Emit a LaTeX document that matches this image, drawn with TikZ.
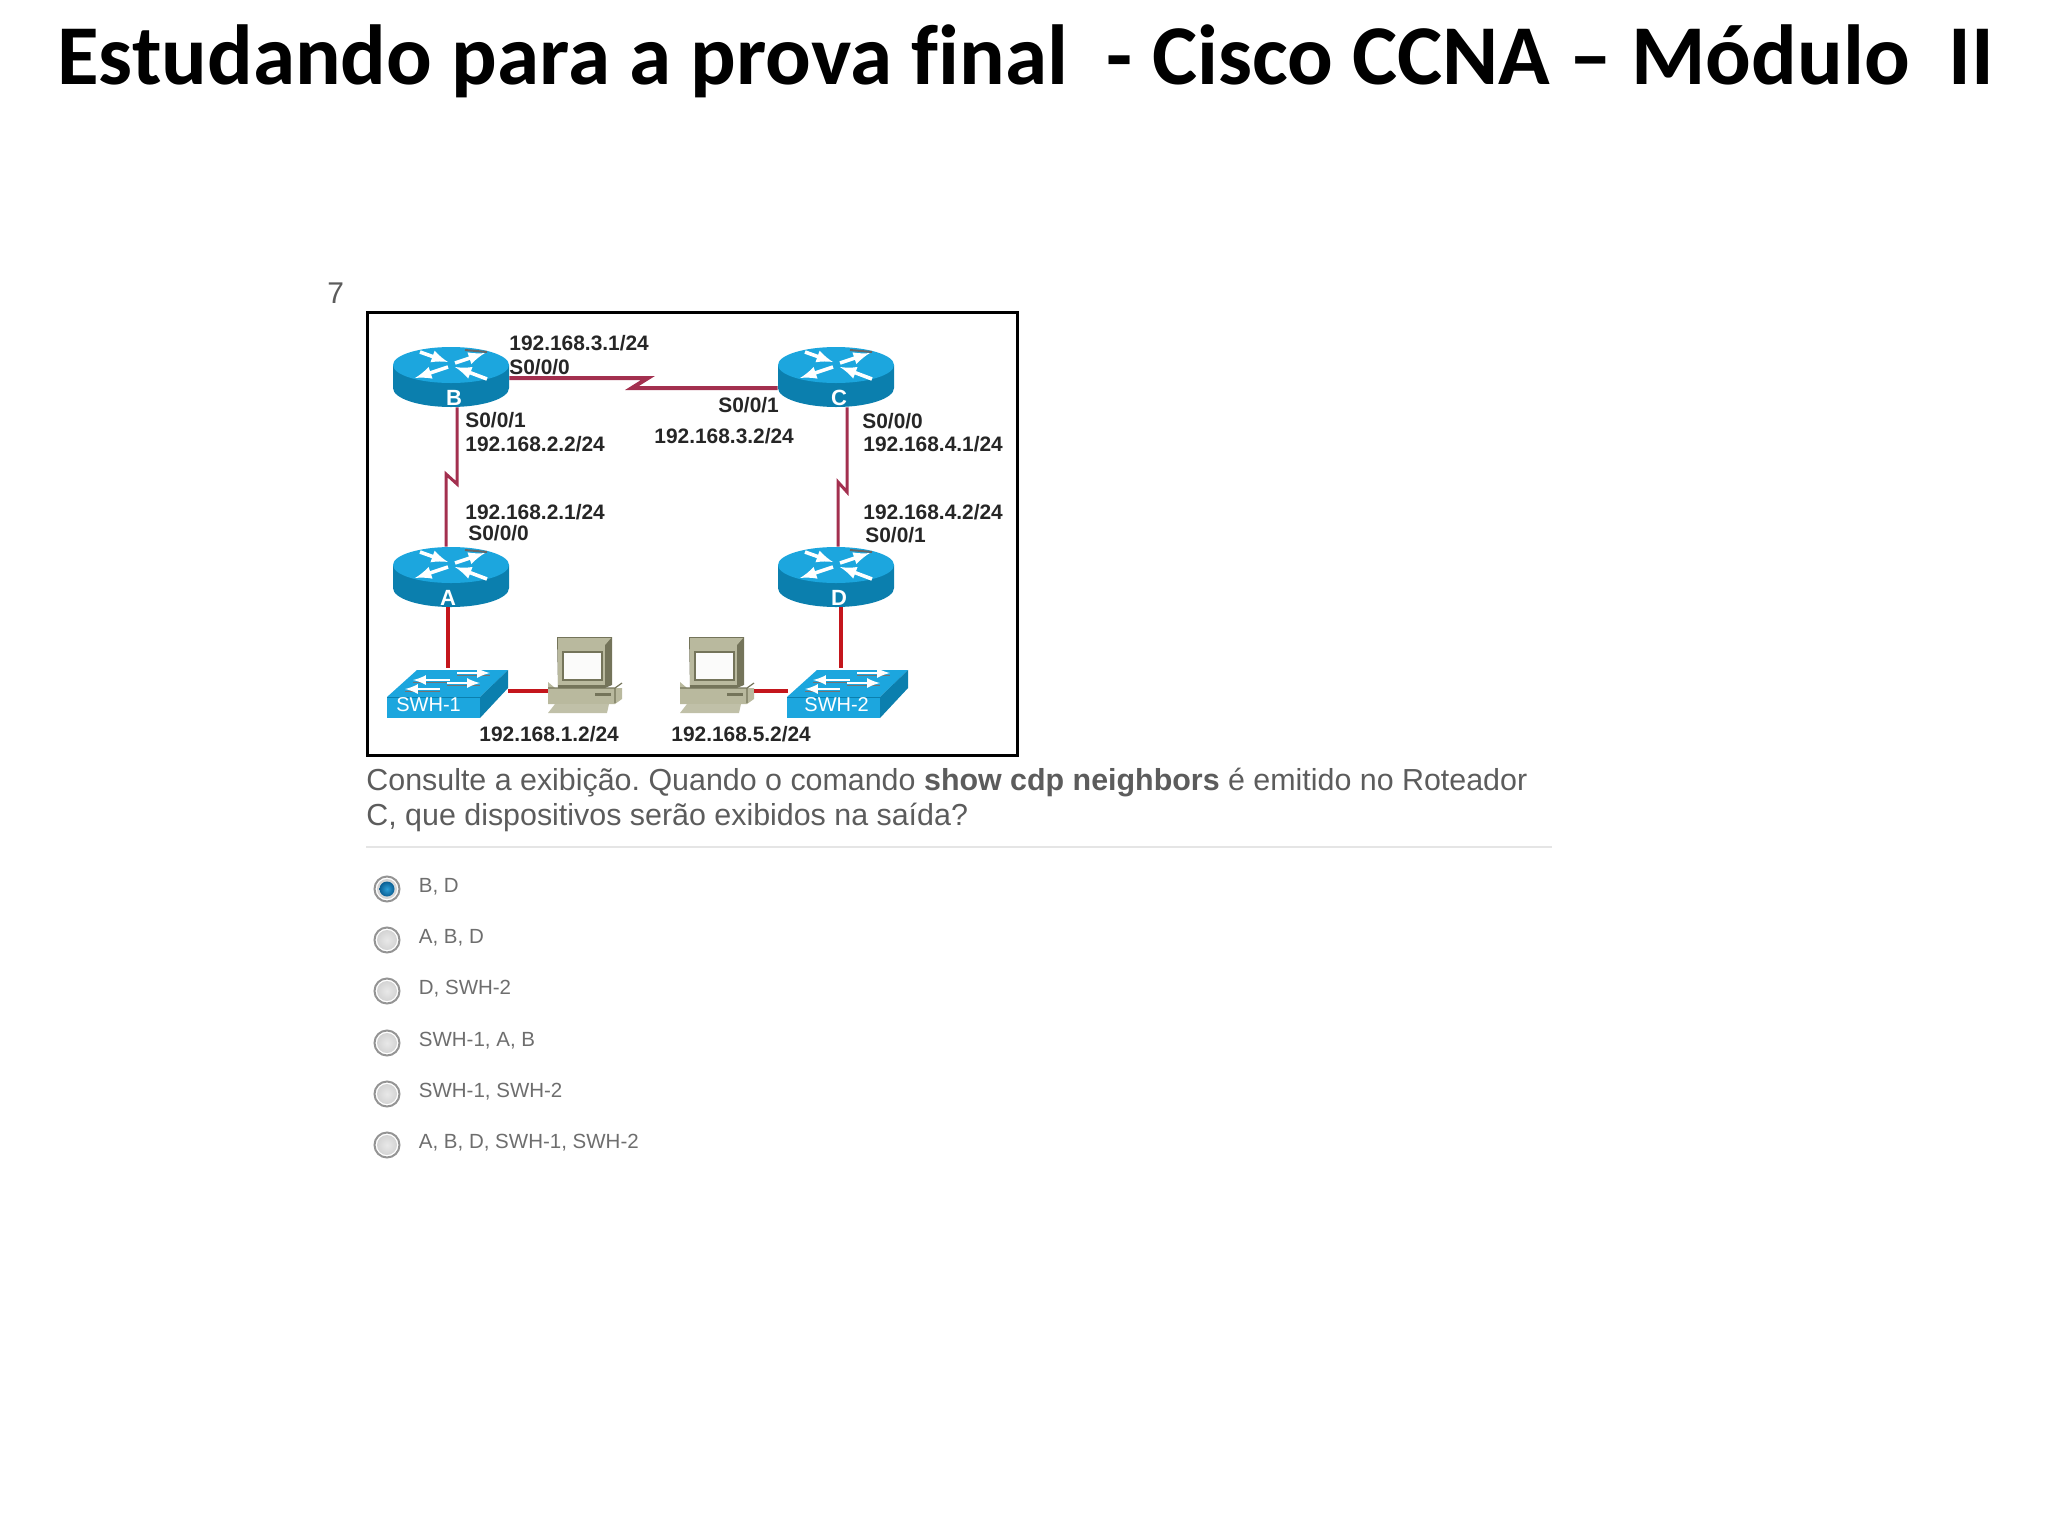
\documentclass[tikz,border=0pt]{standalone}
\usepackage{fontspec}
\setmainfont{Liberation Sans}
\newfontfamily\titlefont[Ligatures=NoCommon]{Carlito}
\usetikzlibrary{positioning}
\definecolor{routertop}{HTML}{1CA6DE}
\definecolor{routerside}{HTML}{0B7FAE}
\definecolor{wanline}{HTML}{A3304F}
\definecolor{lanline}{HTML}{C4161C}
\definecolor{pcbody}{HTML}{B9B99E}
\definecolor{pcdark}{HTML}{74745A}
\definecolor{bodytext}{HTML}{5C5C5C}
\definecolor{opttext}{HTML}{6E6E6E}
\definecolor{radioblue}{HTML}{0A5F94}
\definecolor{radiolight}{HTML}{2E9FD8}
\tikzset{
  iplabel/.style={anchor=west,inner sep=0pt,font=\bfseries\fontsize{10.45}{12}\selectfont,text=black!85},
  iconlabel/.style={inner sep=0pt,text=white,font=\bfseries\fontsize{11}{12}\selectfont},
  wanlink/.style={draw=wanline,line width=1.5pt,line join=miter},
  lanlink/.style={draw=lanline,line width=2.3pt},
  radiobox/.style={circle,draw=black!42,line width=1pt,fill=white,minimum size=12.5pt,inner sep=0pt},
  optlabel/.style={inner sep=0pt,text=opttext,font=\fontsize{10.25}{12}\selectfont},
  bodyline/.style={anchor=west,inner sep=0pt,text=bodytext,font=\fontsize{15.2}{17}\selectfont},
}
\newcommand{\drawrouter}[5]{
  \begin{scope}[shift={(#2,#3)}]
    \fill[routerside] (-58,-12) -- (-58,11) arc[start angle=180,end angle=0,x radius=58,y radius=19] -- (58,-12) -- cycle;
    \fill[routertop] (0,-12) ellipse[x radius=58,y radius=18];
    \foreach \ax/\ay/\bx/\by in {-31/-25/-3/-15, 4/-14/34/-24, -3/-10/-36/1, 36/2/4/-10}{
      \draw[white,line width=1.8pt,-latex] (\ax,\ay) -- (\bx,\by);
    }
    \draw[black!60,line width=1pt] (14,-27) -- (36,-25);
    \node[minimum width=58pt,minimum height=30pt,inner sep=0pt] (#1) at (0,0) {};
    \node[iconlabel] (#1label) at (#5,21) {#4};
  \end{scope}
}
\newcommand{\drawswitch}[5]{
  \begin{scope}[shift={(#2,#3)}]
    \fill[routertop] (-61,4) -- (-31,-23) -- (60,-23) -- (32,4) -- cycle;
    \fill[routerside] (32,4) -- (60,-23) -- (60,-5) -- (32,25) -- cycle;
    \fill[routertop] (-61,4) rectangle (32,25);
    \draw[routerside,line width=.5pt] (-61,4) -- (32,4);
    \foreach \ax/\ay/\bx/\by in {2/-13/-35/-13, 9/-20/42/-20, -8/-4/-43/-4, -1/-10/32/-10}{
      \draw[black!55,line width=.8pt] (\ax,\ay+2.5) -- (\bx,\by+2.5);
      \draw[white,line width=1.2pt,-latex] (\ax,\ay) -- (\bx,\by);
    }
    \node[minimum width=60pt,minimum height=25pt,inner sep=0pt] (#1) at (0,0) {};
    \node[iconlabel,anchor=west,font=\fontsize{10}{12}\selectfont] (#1label) at (#5,12) {#4};
  \end{scope}
}
\newcommand{\drawpc}[3]{
  \begin{scope}[shift={(#2,#3)}]
    \fill[pcbody] (-37,7) -- (-30,13) -- (37,13) -- (37,24) -- (30,29) -- (-37,29) -- cycle;
    \draw[pcdark,line width=.6pt] (-37,13) -- (30,13) -- (30,28) (30,13) -- (37,8);
    \fill[pcdark] (10,18) rectangle (26,21);
    \fill[pcbody!90!white] (-37,38) -- (-30,29) -- (24,29) -- (22,38) -- cycle;
    \fill[pcdark] (-28,-38) -- (27,-38) -- (27,10) -- (20,13) -- (-27,13) -- cycle;
    \fill[pcbody] (-27,-37) -- (26,-37) -- (20,-30) -- (-27,-30) -- cycle;
    \fill[pcbody] (-27,-30) rectangle (20,10);
    \draw[pcdark,line width=.8pt,fill=white!95!pcbody] (-22,-23) rectangle (17,5);
    \node[minimum width=37pt,minimum height=38pt,inner sep=0pt] (#1) at (0,0) {};
  \end{scope}
}
\begin{document}
\begin{tikzpicture}[x=0.5pt,y=-0.5pt]
  \useasboundingbox (0,0) rectangle (2048,1536);
  \node[anchor=base west,inner sep=0pt,font=\titlefont\bfseries\fontsize{42.6}{50}\selectfont] (title) at (57,85)
    {Estudando para a prova final\ \ - Cisco CCNA – Módulo\ \ II};
  \node[anchor=west,inner sep=0pt,text=bodytext,font=\fontsize{15}{17}\selectfont] (number) at (327,293) {7};
  \draw[black,line width=1.5pt] (367,312) rectangle (1017,755);

  % routers, switches and hosts
  \drawrouter{rtrB}{451}{377}{B}{3}
  \drawrouter{rtrC}{836}{377}{C}{3}
  \drawrouter{rtrA}{451}{577}{A}{-3}
  \drawrouter{rtrD}{836}{577}{D}{3}
  \drawswitch{swhA}{448}{693}{SWH-1}{-52}
  \drawswitch{swhD}{848}{693}{SWH-2}{-44}
  \drawpc{pcA}{585}{675}
  \drawpc{pcD}{717}{675}

  % serial links with their kink
  \coordinate (kinkBCa) at (648,378);
  \coordinate (kinkBCb) at (632,388);
  \coordinate (kinkBAa) at (457,484);
  \coordinate (kinkBAb) at (446,474);
  \coordinate (kinkCDa) at (847,492);
  \coordinate (kinkCDb) at (838,482);
  \draw[wanlink,line width=2pt] (rtrB.east |- kinkBCa) -- (kinkBCa) -- (kinkBCb) -- (rtrC.west |- kinkBCb);
  \draw[wanlink] (rtrB.south -| kinkBAa) -- (kinkBAa) -- (kinkBAb) -- (rtrA.north -| kinkBAb);
  \draw[wanlink] (rtrC.south -| kinkCDa) -- (kinkCDa) -- (kinkCDb) -- (rtrD.north -| kinkCDb);

  % ethernet links
  \draw[lanlink] (rtrA.south -| swhA.north) -- (swhA.north);
  \draw[lanlink] (rtrD.south -| swhD.north) ++(-7,0) -- ++(0,61);
  \draw[lanlink] ([yshift=1pt]swhA.east) -- ([yshift=1pt]swhA.east -| pcA.west);
  \draw[lanlink] ([yshift=1pt]swhD.west -| pcD.east) -- ([yshift=1pt]swhD.west);

  \node[iplabel] (ipBC) at (509,343) {192.168.3.1/24};
  \node[iplabel] (ifBC) at (509,367) {S0/0/0};
  \node[iplabel] (ifBA) at (465,420) {S0/0/1};
  \node[iplabel] (ipBA) at (465,444) {192.168.2.2/24};
  \node[iplabel] (ipAB) at (465,512) {192.168.2.1/24};
  \node[iplabel] (ifAB) at (468,533) {S0/0/0};
  \node[iplabel] (ifCB) at (718,405) {S0/0/1};
  \node[iplabel] (ipCB) at (654,436) {192.168.3.2/24};
  \node[iplabel] (ifCD) at (862,421) {S0/0/0};
  \node[iplabel] (ipCD) at (863,444) {192.168.4.1/24};
  \node[iplabel] (ipDC) at (863,512) {192.168.4.2/24};
  \node[iplabel] (ifDC) at (865,535) {S0/0/1};
  \node[iplabel] (ipPcA) at (479,734) {192.168.1.2/24};
  \node[iplabel] (ipPcD) at (671,734) {192.168.5.2/24};

  \node[bodyline] (lineOne) at (366,783) {\frenchspacing Consulte a exibição. Quando o comando \textbf{show cdp neighbors} é emitido no Roteador};
  \node[bodyline] (lineTwo) at (366,817) {\frenchspacing C, que dispositivos serão exibidos na saída?};
  \draw[black!10,line width=1pt] (366,847) -- (1552,847);

  \foreach \i/\ypos/\opt in {1/889/{B, D},2/940/{A, B, D},3/991/{D, SWH-2},4/1043/{SWH-1, A, B},5/1094/{SWH-1, SWH-2},6/1145/{A, B, D, SWH-1, SWH-2}}{
    \node[radiobox] (radio\i) at (387,\ypos) {};
    \node[optlabel,right=9pt of radio\i,yshift=1pt] (opt\i) {\opt};
    \shade[inner color=black!9,outer color=black!17] (radio\i) circle[radius=10];
  }
  \shade[inner color=radiolight,outer color=radioblue] (radio1) circle[radius=7.5];
\end{tikzpicture}
\end{document}
